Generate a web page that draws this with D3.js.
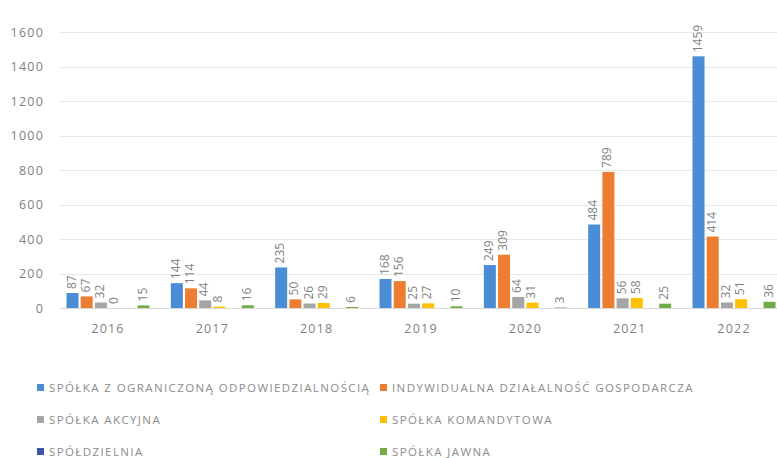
<!DOCTYPE html>
<html>
<head>
<meta charset="utf-8">
<script src="https://cdn.jsdelivr.net/npm/d3@7"></script>
<style>
  html, body { margin: 0; padding: 0; background: #fff; }
  svg { display: block; font-family: "Open Sans", "DejaVu Sans", sans-serif; }
</style>
</head>
<body>
<div id="chart"></div>
<script>
// categories and series
const years = ['2016', '2017', '2018', '2019', '2020', '2021', '2022'];
const seriesNames = [
  'SPÓŁKA Z OGRANICZONĄ ODPOWIEDZIALNOŚCIĄ',
  'INDYWIDUALNA DZIAŁALNOŚĆ GOSPODARCZA',
  'SPÓŁKA AKCYJNA',
  'SPÓŁKA KOMANDYTOWA',
  'SPÓŁDZIELNIA',
  'SPÓŁKA JAWNA'
];
const seriesColors = ['#4a8cd6', '#ed7d31', '#a5a5a5', '#ffc000', '#3d55a8', '#70ad47'];

// values per series, one entry per year (null = no value)
const spzoo = [87, 144, 235, 168, 249, 484, 1459];
const idg = [67, 114, 50, 156, 309, 789, 414];
const akcyjna = [32, 44, 26, 25, 64, 56, 32];
const komandytowa = [0, 8, 29, 27, 31, 58, 51];
const spoldzielnia = [null, null, null, null, null, null, null];
const jawna = [15, 16, 6, 10, 3, 25, 36];

const yTicks = [0, 200, 400, 600, 800, 1000, 1200, 1400, 1600];

const width = 777, height = 458;
const seriesValues = [spzoo, idg, akcyjna, komandytowa, spoldzielnia, jawna];
const textColor = '#7f7f7f';

const svg = d3.select('#chart')
  .append('svg')
  .attr('width', width)
  .attr('height', height);

// scales
const x0 = d3.scaleBand()
  .domain(years)
  .range([55.85, 786.2])
  .paddingInner(0.162)
  .paddingOuter(0.081);

const x1 = d3.scaleBand()
  .domain(d3.range(seriesNames.length))
  .range([0, x0.bandwidth()])
  .padding(0.155);

const y = d3.scaleLinear()
  .domain([0, 1600])
  .range([308, 32]);

// gridlines
svg.append('g')
  .selectAll('line')
  .data(yTicks)
  .enter()
  .append('line')
  .attr('x1', 60)
  .attr('x2', width)
  .attr('y1', d => Math.round(y(d)) + 0.5)
  .attr('y2', d => Math.round(y(d)) + 0.5)
  .attr('stroke', d => d === 0 ? '#d9d9d9' : '#e8e8e8')
  .attr('stroke-width', 1);

// y axis labels
const yAxis = svg.append('g')
  .attr('transform', 'translate(44,0)')
  .call(d3.axisLeft(y).tickValues(yTicks).tickFormat(d3.format('d')).tickSize(0).tickPadding(0));
yAxis.select('.domain').remove();
yAxis.selectAll('text')
  .attr('font-size', '12.5px')
  .attr('letter-spacing', '1.2px')
  .attr('font-family', '"Open Sans", sans-serif')
  .attr('fill', textColor);

// x axis labels
const xAxis = svg.append('g')
  .attr('transform', 'translate(0,308)')
  .call(d3.axisBottom(x0).tickSize(0).tickPadding(16));
xAxis.select('.domain').remove();
xAxis.selectAll('text')
  .attr('font-size', '12.5px')
  .attr('letter-spacing', '1.2px')
  .attr('font-family', '"Open Sans", sans-serif')
  .attr('fill', textColor);

// flatten to bar records
const records = [];
years.forEach((yr, i) => {
  seriesValues.forEach((vals, s) => {
    if (vals[i] !== null) records.push({ year: yr, s: s, value: vals[i] });
  });
});

// bars
svg.append('g')
  .selectAll('rect')
  .data(records)
  .enter()
  .append('rect')
  .attr('x', d => x0(d.year) + x1(d.s))
  .attr('y', d => y(d.value))
  .attr('width', x1.bandwidth())
  .attr('height', d => y(0) - y(d.value))
  .attr('fill', d => seriesColors[d.s]);

// data labels, rotated
svg.append('g')
  .selectAll('text')
  .data(records)
  .enter()
  .append('text')
  .attr('transform', d => {
    const cx = x0(d.year) + x1(d.s) + x1.bandwidth() / 2;
    return `translate(${cx + 3},${y(d.value) - 4}) rotate(-90)`;
  })
  .attr('font-size', '12px')
  .attr('font-family', '"Open Sans", sans-serif')
  .attr('fill', textColor)
  .text(d => d.value);

// legend
const legendPos = [
  [37, 388], [380, 388],
  [37, 420], [380, 420],
  [37, 452], [380, 452]
];
const legend = svg.append('g')
  .selectAll('g')
  .data(seriesNames)
  .enter()
  .append('g')
  .attr('transform', (d, i) => `translate(${legendPos[i][0]},${legendPos[i][1]})`);

legend.append('rect')
  .attr('x', 0)
  .attr('y', -4)
  .attr('width', 7)
  .attr('height', 7)
  .attr('fill', (d, i) => seriesColors[i]);

legend.append('text')
  .attr('x', 12)
  .attr('y', 4)
  .attr('font-size', '11.5px')
  .attr('letter-spacing', '1.4px')
  .attr('font-family', '"Open Sans", sans-serif')
  .attr('fill', '#8c8c8c')
  .text(d => d);
</script>
</body>
</html>
